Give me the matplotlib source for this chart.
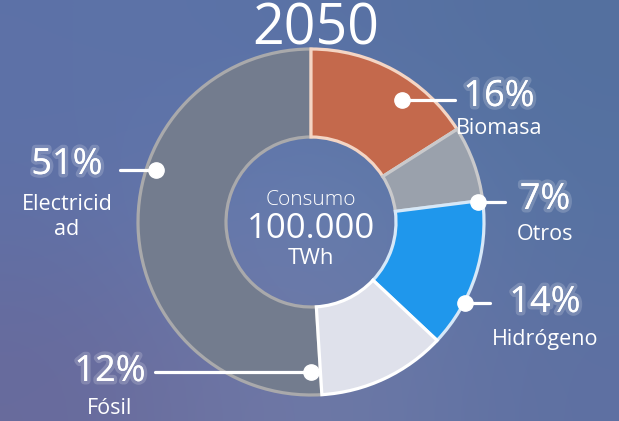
import numpy as np
import matplotlib
matplotlib.use("Agg")
import matplotlib.pyplot as plt
import matplotlib.patheffects as pe

# ---- data ----
categories = ["Biomasa", "Otros", "Hidrógeno", "Fósil", "Electricidad"]
label_lines = ["Biomasa", "Otros", "Hidrógeno", "Fósil", "Electricid\nad"]
shares = [16, 7, 14, 12, 51]
title_year = "2050"
center_lines = ["Consumo", "100.000", "TWh"]

# ---- styles ----
fills = ["#c4694c", "#9aa1ac", "#1f97ec", "#dfe1eb", "#737c8e"]
edges = ["#f4d5c4", "#c9c9cb", "#d6e8f8", "#ffffff", "#a9a9ab"]
W, H = 619, 421
cx, cy = 311, 222  # pixel coords (y down)
R_out, R_in = 173, 85

# annotation layout: (angle from top clockwise, radius), line end x, label center x, pct y, name y
dot_ang = [36.7, 83, 117.7, 180, 288.5]
dot_rad = [152, 168, 174, 150, 163]
line_end = [455, 505, 490, 155, 120]
lab_x = [499, 545, 545, 110, 67]
pct_y = [97, 200, 303, 372, 165]
name_y = [129, 234, 340, 408, 217]

fig = plt.figure(figsize=(W / 100, H / 100), dpi=100)
ax = fig.add_axes([0, 0, 1, 1])

# background gradient
grid = np.array([
    [[0x5d, 0x72, 0xa8], [0x5a, 0x72, 0xa6], [0x54, 0x70, 0x9f]],
    [[0x5f, 0x70, 0xa6], [0x6c, 0x83, 0xb4], [0x56, 0x72, 0xa2]],
    [[0x68, 0x6a, 0x9c], [0x72, 0x7c, 0xa8], [0x5e, 0x70, 0xa2]],
]) / 255.0
ax.imshow(grid, extent=[0, W, 0, H], interpolation="bicubic", aspect="auto", zorder=0)

def Y(y):
    return H - y

wedges, _ = ax.pie(shares, colors=fills, startangle=90, counterclock=False,
                   center=(cx, Y(cy)), radius=R_out,
                   wedgeprops=dict(width=R_out - R_in, linewidth=2.3))
order = [4, 0, 1, 2, 3]
for i in order:
    w = wedges[i]
    w.set_edgecolor(edges[i])
    w.set_zorder(2 + order.index(i))

ax.set_xlim(0, W)
ax.set_ylim(0, H)
ax.set_aspect("auto")
ax.axis("off")

font = "Open Sans"
glow = [pe.withStroke(linewidth=5, foreground=(1, 1, 1, 0.18))]

for i in range(len(shares)):
    a = np.deg2rad(dot_ang[i])
    dx = cx + dot_rad[i] * np.sin(a)
    dy = cy - dot_rad[i] * np.cos(a)
    ax.plot([dx, line_end[i]], [Y(dy), Y(dy)], color="white", lw=2.3,
            solid_capstyle="round", zorder=10)
    ax.plot([dx], [Y(dy)], "o", color="white", ms=11, zorder=11)
    ax.text(lab_x[i], Y(pct_y[i]), f"{shares[i]}%", ha="center", va="center",
            fontsize=26, color="white", family=font, fontweight="medium",
            path_effects=glow, zorder=12)
    ax.text(lab_x[i], Y(name_y[i]), label_lines[i], ha="center", va="center",
            fontsize=15.5, color="white", family=font, linespacing=1.3, zorder=12)

ax.text(316, Y(30), title_year, ha="center", va="center", fontsize=40,
        color="white", family=font, fontweight="normal", zorder=12)
ax.text(cx, Y(200), center_lines[0], ha="center", va="center", fontsize=15,
        color="white", family=font, fontweight="light", zorder=12)
ax.text(cx, Y(229), center_lines[1], ha="center", va="center", fontsize=25,
        color="white", family=font, zorder=12)
ax.text(cx, Y(259), center_lines[2], ha="center", va="center", fontsize=16,
        color="white", family=font, zorder=12)

fig.savefig("out.png", dpi=100)
